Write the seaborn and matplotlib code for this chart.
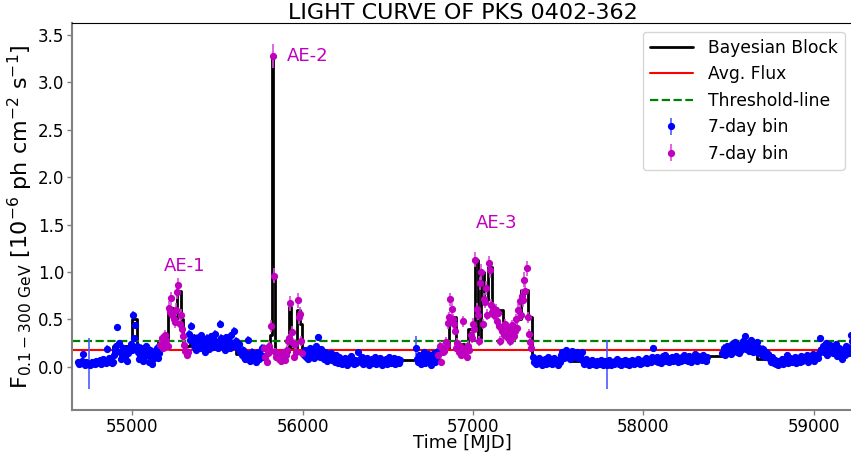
import numpy as np
import pandas as pd
import matplotlib
matplotlib.use("Agg")
import matplotlib.pyplot as plt
import seaborn as sns

BIN = 7  # days per bin

# ---- quiescent (blue) 7-day bins: segment start MJD + weekly fluxes ----
q1_start = 54683
q1_flux = [0.05, 0.03, 0.04, 0.06, 0.13, 0.04, 0.02, 0.05, 0.03, 0.03,
           0.02, 0.03, 0.05, 0.04, 0.03, 0.06, 0.04, 0.05, 0.07, 0.03,
           0.05, 0.08, 0.06, 0.04, 0.19, 0.05, 0.09, 0.06, 0.04, 0.05,
           0.12, 0.18, 0.22, 0.42, 0.25, 0.15, 0.08, 0.12, 0.2, 0.1,
           0.16, 0.06, 0.14, 0.2, 0.24, 0.18, 0.55, 0.3, 0.44, 0.22,
           0.15, 0.08, 0.12, 0.2, 0.06, 0.1, 0.14, 0.22, 0.12, 0.05,
           0.18, 0.1, 0.03, 0.08, 0.16, 0.12, 0.2, 0.09, 0.14]

q2_start = 55334
q2_flux = [0.35, 0.28, 0.43, 0.3, 0.22, 0.25, 0.18, 0.3, 0.26, 0.2,
           0.33, 0.24, 0.28, 0.15, 0.22, 0.3, 0.26, 0.19, 0.32, 0.25,
           0.21, 0.28, 0.35, 0.24, 0.2, 0.27, 0.45, 0.3, 0.22, 0.26,
           0.18, 0.31, 0.24, 0.28, 0.2, 0.33, 0.25, 0.22, 0.38, 0.27,
           0.21, 0.19, 0.24, 0.15, 0.12, 0.18, 0.1, 0.08, 0.14, 0.28,
           0.12, 0.06, 0.1, 0.16, 0.09, 0.13, 0.05, 0.11, 0.15, 0.08,
           0.12, 0.2, 0.1]

q3_start = 56006
q3_flux = [0.12, 0.18, 0.1, 0.15, 0.08, 0.2, 0.14, 0.11, 0.17, 0.09,
           0.22, 0.13, 0.31, 0.16, 0.1, 0.19, 0.12, 0.08, 0.15, 0.11,
           0.06, 0.13, 0.09, 0.14, 0.07, 0.1, 0.05, 0.12,
           0.08, 0.04, 0.1, 0.06, 0.03, 0.07, 0.05, 0.09, 0.02, 0.06,
           0.04, 0.08, 0.11, 0.05, 0.03, 0.07, 0.04, 0.06, 0.15, 0.08,
           0.05, 0.1, 0.03, 0.07, 0.04, 0.09, 0.06, 0.02, 0.05, 0.08,
           0.04, 0.07, 0.1, 0.03, 0.06, 0.05, 0.09, 0.04, 0.02, 0.07,
           0.05, 0.08, 0.03, 0.06, 0.1, 0.04, 0.07, 0.05, 0.09, 0.03,
           0.06, 0.08, 0.04, 0.07]

q4_start = 56664
q4_flux = [0.2, 0.08, 0.05, 0.12, 0.03, 0.1, 0.07, 0.15, 0.04, 0.09,
           0.13, 0.06, 0.11, 0.02, 0.08, 0.14, 0.05, 0.1, 0.16]

q5_start = 57350
q5_flux = [0.1, 0.05, 0.08, 0.03, 0.06, 0.09, 0.04, 0.07, 0.02, 0.05,
           0.08, 0.03, 0.06, 0.1, 0.04, 0.07, 0.03, 0.05, 0.09, 0.04,
           0.06, 0.02, 0.07, 0.05,
           0.12, 0.16, 0.09, 0.14, 0.18, 0.11, 0.15, 0.08, 0.13, 0.17,
           0.1, 0.14, 0.12, 0.16, 0.09, 0.13, 0.11, 0.15,
           0.06, 0.03, 0.05, 0.08, 0.04, 0.02, 0.06, 0.04, 0.07, 0.03,
           0.05, 0.02, 0.06, 0.04, 0.03, 0.07, 0.05, 0.02, 0.04, 0.06,
           0.02, 0.05, 0.07, 0.04, 0.02, 0.05, 0.03, 0.06, 0.04, 0.08,
           0.03, 0.05, 0.02, 0.06, 0.04, 0.07, 0.03, 0.05, 0.06, 0.02,
           0.04, 0.07, 0.05, 0.03, 0.06, 0.04, 0.08, 0.05, 0.03, 0.06,
           0.04, 0.07, 0.05, 0.09, 0.04, 0.06, 0.08, 0.05, 0.1,
           0.2, 0.08, 0.06, 0.1, 0.05, 0.07, 0.09, 0.04, 0.11, 0.07,
           0.12, 0.06, 0.08, 0.05, 0.09, 0.07, 0.1, 0.06, 0.08, 0.11,
           0.07, 0.05, 0.09, 0.06, 0.1, 0.08, 0.12, 0.07, 0.09, 0.06,
           0.11, 0.08, 0.05, 0.1, 0.07, 0.13, 0.09, 0.06, 0.11, 0.08,
           0.1, 0.07, 0.12, 0.09, 0.06, 0.1]

q6_start = 58463
q6_flux = [0.14, 0.2, 0.12, 0.18, 0.22, 0.15, 0.19, 0.13, 0.24, 0.17,
           0.21, 0.26, 0.16, 0.2, 0.14, 0.23, 0.18, 0.27, 0.21, 0.32,
           0.19, 0.25, 0.17, 0.22, 0.28, 0.2, 0.15, 0.23, 0.18, 0.26,
           0.14, 0.2, 0.17, 0.12, 0.19, 0.15, 0.1, 0.16, 0.13, 0.11,
           0.08, 0.05, 0.1, 0.04, 0.07, 0.03, 0.06, 0.02, 0.05, 0.04,
           0.08, 0.03, 0.06, 0.05, 0.12, 0.04, 0.07, 0.09, 0.05, 0.08,
           0.06, 0.1, 0.04, 0.07, 0.09, 0.05, 0.11, 0.06, 0.08, 0.1,
           0.07, 0.12, 0.05, 0.09, 0.11, 0.08, 0.13, 0.06, 0.1, 0.12,
           0.09, 0.14,
           0.3, 0.18, 0.22, 0.15, 0.2, 0.25, 0.12, 0.19, 0.23, 0.16,
           0.21, 0.14, 0.18, 0.24, 0.11, 0.17, 0.2, 0.13, 0.08, 0.15,
           0.19, 0.12, 0.22, 0.16, 0.14, 0.2, 0.33, 0.27]

q_starts = [q1_start, q2_start, q3_start, q4_start, q5_start, q6_start]
q_fluxes = [q1_flux, q2_flux, q3_flux, q4_flux, q5_flux, q6_flux]
q_typical_err = [0.035, 0.04, 0.03, 0.035, 0.03, 0.035]
# bins with a large uncertainty: (MJD, error)
q_big_err = {54746: 0.27, 57784: 0.26, 56664: 0.12}

# ---- active epochs (magenta) ----
ae1_start = 55166
ae1_flux = [0.23, 0.3, 0.2, 0.26, 0.33, 0.28, 0.22, 0.62, 0.58, 0.72,
            0.55, 0.5, 0.47, 0.6, 0.79, 0.86, 0.45, 0.55, 0.4, 0.32,
            0.23, 0.17, 0.12, 0.15]
ae1_err = [0.05, 0.05, 0.05, 0.05, 0.06, 0.05, 0.05, 0.07, 0.06, 0.07,
           0.06, 0.06, 0.06, 0.07, 0.08, 0.08, 0.06, 0.06, 0.06, 0.05,
           0.05, 0.05, 0.04, 0.05]

ae2_start = 55775
ae2_flux = [0.2, 0.1, 0.05, 0.14, 0.22, 0.18, 0.43, 3.28, 0.96, 0.16,
            0.1, 0.14, 0.08, 0.12, 0.06, 0.1, 0.15, 0.07, 0.12, 0.18,
            0.27, 0.3, 0.67, 0.37, 0.25, 0.1, 0.24, 0.16, 0.7, 0.52,
            0.56, 0.27, 0.14]
ae2_err = [0.04, 0.04, 0.04, 0.04, 0.05, 0.05, 0.06, 0.13, 0.08, 0.04,
           0.04, 0.04, 0.04, 0.04, 0.04, 0.04, 0.04, 0.04, 0.04, 0.05,
           0.05, 0.05, 0.08, 0.06, 0.05, 0.04, 0.05, 0.05, 0.08, 0.07,
           0.07, 0.05, 0.04]

ae3_start = 56797
ae3_flux = [0.12, 0.22, 0.05, 0.2, 0.15, 0.17, 0.26, 0.23, 0.46, 0.52,
            0.71, 0.61, 0.5, 0.45, 0.38, 0.2, 0.25, 0.15, 0.22, 0.12,
            0.18, 0.48, 0.16, 0.2, 0.1, 0.22, 0.18, 0.33, 0.3, 0.45,
            0.4, 1.13, 0.61, 0.55, 0.27, 0.88, 1.0, 0.45, 0.71, 0.68,
            0.83, 0.55, 1.09, 1.02, 0.65, 0.58, 0.62, 0.55, 0.6, 0.48,
            0.57, 0.43, 0.27, 0.38, 0.42, 0.33, 0.45, 0.35, 0.3, 0.4,
            0.27, 0.36, 0.44, 0.32, 0.38, 0.5, 0.41, 0.6, 0.69, 0.55,
            0.75, 0.7, 0.92, 0.8, 1.04, 0.52, 0.35, 0.26, 0.2]
ae3_err = [0.04, 0.05, 0.04, 0.05, 0.04, 0.04, 0.05, 0.05, 0.06, 0.06,
           0.07, 0.06, 0.06, 0.06, 0.05, 0.05, 0.05, 0.04, 0.05, 0.04,
           0.05, 0.06, 0.04, 0.05, 0.04, 0.05, 0.05, 0.05, 0.05, 0.06,
           0.05, 0.08, 0.06, 0.06, 0.05, 0.07, 0.08, 0.05, 0.07, 0.06,
           0.07, 0.06, 0.08, 0.08, 0.06, 0.06, 0.06, 0.06, 0.06, 0.05,
           0.06, 0.05, 0.05, 0.05, 0.05, 0.05, 0.05, 0.05, 0.05, 0.05,
           0.05, 0.05, 0.05, 0.05, 0.05, 0.06, 0.05, 0.06, 0.07, 0.06,
           0.07, 0.07, 0.08, 0.07, 0.08, 0.06, 0.05, 0.05, 0.05]

ae_starts = [ae1_start, ae2_start, ae3_start]
ae_fluxes = [ae1_flux, ae2_flux, ae3_flux]
ae_errs = [ae1_err, ae2_err, ae3_err]

# ---- Bayesian blocks ----
bb_edges = [54680, 54888, 55000, 55026, 55150, 55210, 55240, 55262, 55285,
            55300, 55340, 55365, 55610, 55808, 55818, 55829, 55836, 55920,
            55935, 55968, 55982, 55995, 56110, 56270, 56800, 56861, 56900,
            56969, 57012, 57031, 57045, 57067, 57090, 57110, 57175, 57253,
            57282, 57322, 57345, 57575, 58060, 58380, 58470, 58565, 58665,
            59030, 59160, 59200, 59230]
bb_level = [0.04, 0.22, 0.5, 0.13, 0.27, 0.62, 0.5, 0.8, 0.5, 0.22, 0.33,
            0.26, 0.13, 0.33, 3.28, 0.96, 0.15, 0.63, 0.2, 0.6, 0.45, 0.15,
            0.1, 0.07, 0.2, 0.52, 0.24, 0.4, 1.13, 0.3, 1.0, 0.7, 1.05, 0.6,
            0.4, 0.5, 0.81, 0.52, 0.09, 0.055, 0.08, 0.11, 0.15, 0.2, 0.08,
            0.2, 0.12, 0.22]

avg_flux = 0.175
threshold = 0.27

ae_labels = ["AE-1", "AE-2", "AE-3"]
ae_label_pos = [(55308, 1.06), (56031, 3.28), (57141, 1.52)]

MAGENTA = "#bf00bf"


def build_table(starts, fluxes):
    rows = []
    for s, fl in zip(starts, fluxes):
        for k, f in enumerate(fl):
            rows.append((s + BIN * k, f))
    return pd.DataFrame(rows, columns=["mjd", "flux"])


quiet = build_table(q_starts, q_fluxes)
quiet["err"] = [q_typical_err[i] for i, fl in enumerate(q_fluxes) for _ in fl]
quiet.loc[quiet["mjd"].isin(q_big_err.keys()), "err"] = quiet["mjd"].map(q_big_err)

active = build_table(ae_starts, ae_fluxes)
active["err"] = [e for errs in ae_errs for e in errs]

blocks = pd.DataFrame({"mjd": bb_edges, "flux": bb_level + [0.0]})

sns.set_theme(style="ticks", color_codes=False,
              rc={"text.color": "black", "axes.labelcolor": "black",
                  "xtick.color": "black", "ytick.color": "black"})
plt.rcParams["font.family"] = ["DejaVu Sans"]

fig = plt.figure(figsize=(8.51, 4.53), dpi=100)
ax = fig.add_axes([0.0846, 0.0949, 0.918, 0.854])

sns.lineplot(data=blocks, x="mjd", y="flux", sort=False, estimator=None,
             drawstyle="steps-post", color="black", lw=2, ax=ax,
             label="Bayesian Block")
ax.axhline(avg_flux, color="red", lw=1.5, label="Avg. Flux")
ax.axhline(threshold, color="green", lw=1.6, ls="--", label="Threshold-line")

ax.errorbar(quiet["mjd"], quiet["flux"], yerr=quiet["err"], fmt="o",
            color="blue", ms=4.2, elinewidth=1.2, ecolor=(0.3, 0.35, 1.0),
            label="7-day bin", zorder=3)
ax.errorbar(active["mjd"], active["flux"], yerr=active["err"], fmt="o",
            color=MAGENTA, ms=4.2, elinewidth=1.2, ecolor=(0.85, 0.3, 0.85),
            label="7-day bin", zorder=3)

for lab, (x, y) in zip(ae_labels, ae_label_pos):
    ax.text(x, y, lab, color=MAGENTA, fontsize=13, ha="center", va="center")

ax.set_xlim(54647, 59231)
ax.set_ylim(-0.457, 3.626)
ax.set_yticks([0.0, 0.5, 1.0, 1.5, 2.0, 2.5, 3.0, 3.5])
ax.set_xticks([55000, 56000, 57000, 58000, 59000])
ax.tick_params(labelsize=12, length=3.5, width=1, color="0.5", pad=2)

ax.set_title("LIGHT CURVE OF PKS 0402-362", fontsize=16, pad=3)
ax.set_xlabel("Time [MJD]", fontsize=13, labelpad=-1)
ax.set_ylabel(r"$\mathrm{F_{0.1-300\ GeV}\ [10^{-6}\ ph\ cm^{-2}\ s^{-1}]}$",
              fontsize=16, labelpad=2)

for side in ["left", "bottom"]:
    ax.spines[side].set_color("0.5")
    ax.spines[side].set_linewidth(1.5)
ax.spines["top"].set_color("black")
ax.spines["top"].set_linewidth(0.8)
ax.spines["right"].set_visible(False)

ax.legend(loc="upper right", fontsize=12.3, frameon=True, borderaxespad=0.5,
          handlelength=2.5, handletextpad=0.9)

fig.savefig("out.png", dpi=100)
